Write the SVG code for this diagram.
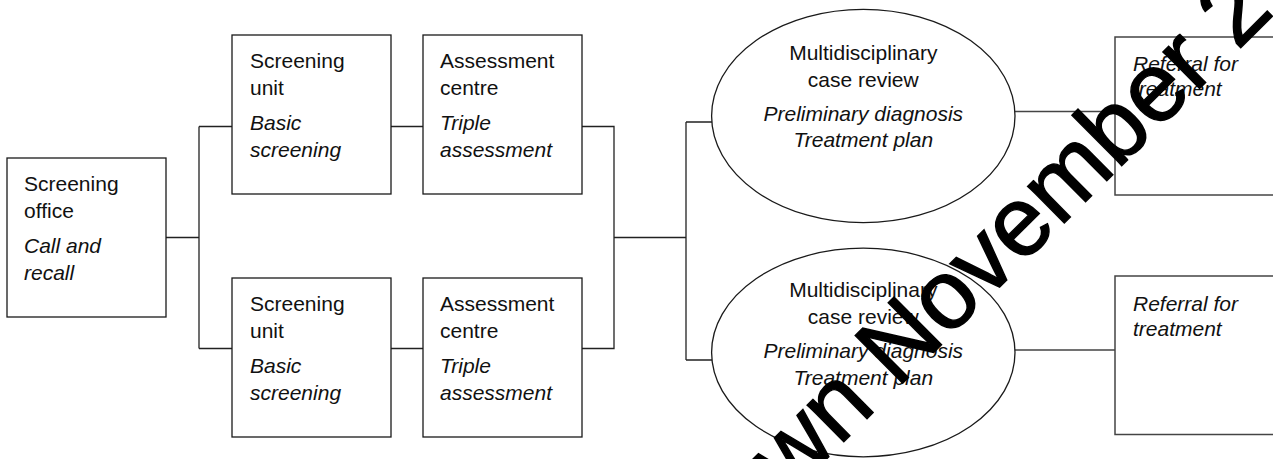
<svg xmlns="http://www.w3.org/2000/svg" width="1273" height="459" viewBox="0 0 1273 459">
<style>
.box{fill:#fff;stroke:#1a1a1a;stroke-width:1.3}
.ref{fill:#fff;stroke:#444;stroke-width:1.5}
.ell{fill:#fff;stroke:#1a1a1a;stroke-width:1.3}
.con{fill:none;stroke:#222;stroke-width:1.3}
.con2{fill:none;stroke:#444;stroke-width:1.5}
text{font-family:"Liberation Sans",Arial,Helvetica,sans-serif;font-size:21px;fill:#111}
.it{font-style:italic}
.mid{text-anchor:middle}
.wm{font-size:98px;fill:#000;stroke:#000;stroke-width:1.4}
</style>
<g id="connectors">
<path class="con" d="M166 237.5H199M199 126.5V348.5M199 126.5H232M199 348.5H232"/>
<path class="con" d="M391 126.5H423M391 348.5H423"/>
<path class="con" d="M582 126.5H614V348.5H582M614 237.5H686M686 122V360M686 122H712M686 360H712"/>
<path class="con2" d="M1015 111.5H1115M1015 350H1115"/>
</g>
<g id="screening-office">
<rect class="box" x="7" y="158" width="159" height="159"/>
<text x="24" y="191">Screening</text>
<text x="24" y="218">office</text>
<text class="it" x="24" y="253">Call and</text>
<text class="it" x="24" y="280">recall</text>
</g>
<g id="screening-unit-1">
<rect class="box" x="232" y="35" width="159" height="159"/>
<text x="250" y="68">Screening</text>
<text x="250" y="95">unit</text>
<text class="it" x="250" y="130">Basic</text>
<text class="it" x="250" y="157">screening</text>
</g>
<g id="assessment-centre-1">
<rect class="box" x="423" y="35" width="159" height="159"/>
<text x="440" y="68">Assessment</text>
<text x="440" y="95">centre</text>
<text class="it" x="440" y="130">Triple</text>
<text class="it" x="440" y="157">assessment</text>
</g>
<g id="screening-unit-2">
<rect class="box" x="232" y="278" width="159" height="159"/>
<text x="250" y="311">Screening</text>
<text x="250" y="338">unit</text>
<text class="it" x="250" y="373">Basic</text>
<text class="it" x="250" y="400">screening</text>
</g>
<g id="assessment-centre-2">
<rect class="box" x="423" y="278" width="159" height="159"/>
<text x="440" y="311">Assessment</text>
<text x="440" y="338">centre</text>
<text class="it" x="440" y="373">Triple</text>
<text class="it" x="440" y="400">assessment</text>
</g>
<g id="case-review-1">
<ellipse class="ell" cx="863.3" cy="116" rx="151.7" ry="106.7"/>
<text class="mid" x="863.3" y="60">Multidisciplinary</text>
<text class="mid" x="863.3" y="86.5">case review</text>
<text class="mid it" x="863.3" y="120.5">Preliminary diagnosis</text>
<text class="mid it" x="863.3" y="147">Treatment plan</text>
</g>
<g id="case-review-2">
<ellipse class="ell" cx="863.3" cy="352.5" rx="151.7" ry="104.3"/>
<text class="mid" x="863.3" y="297">Multidisciplinary</text>
<text class="mid" x="863.3" y="323.5">case review</text>
<text class="mid it" x="863.3" y="358">Preliminary diagnosis</text>
<text class="mid it" x="863.3" y="384.5">Treatment plan</text>
</g>
<g id="referral-1">
<rect class="ref" x="1115" y="37" width="200" height="158"/>
<text class="it" x="1133" y="70.7">Referral for</text>
<text class="it" x="1133" y="96">treatment</text>
</g>
<g id="referral-2">
<rect class="ref" x="1115" y="276" width="200" height="158.5"/>
<text class="it" x="1133" y="310.7">Referral for</text>
<text class="it" x="1133" y="336">treatment</text>
</g>
<g id="watermark">
<text class="wm" transform="translate(897 389) rotate(-44.8)" x="-490" y="0">Withdrawn November 2</text>
</g>
</svg>
